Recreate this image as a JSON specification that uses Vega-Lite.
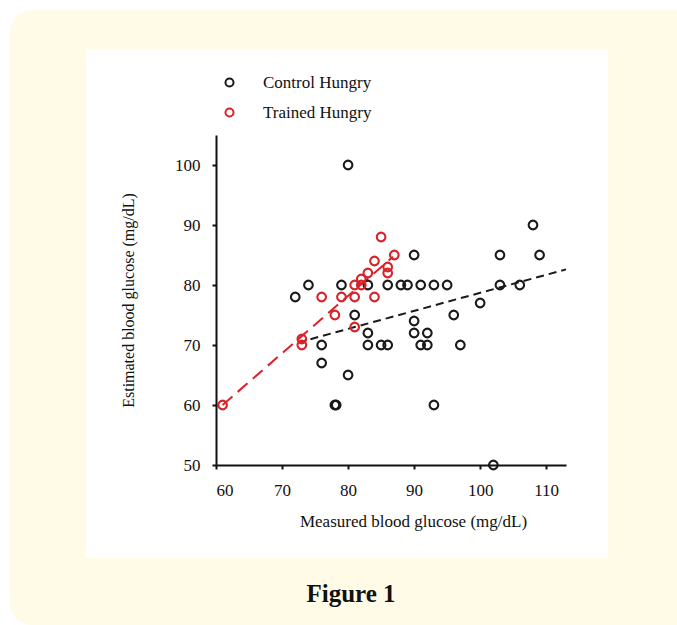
{
  "$schema": "https://vega.github.io/schema/vega-lite/v6.json",
  "width": 350,
  "height": 330,
  "autosize": {"type": "none"},
  "padding": {"left": 216, "top": 135, "right": 111, "bottom": 160},
  "background": "#ffffff",
  "config": {
    "view": {"stroke": null},
    "font": "Liberation Serif"
  },
  "datasets": {
    "panel": [{"part": "panel"}],
    "points": [
      {"group": "Control Hungry", "measured": 80, "estimated": 100},
      {"group": "Control Hungry", "measured": 72, "estimated": 78},
      {"group": "Control Hungry", "measured": 74, "estimated": 80},
      {"group": "Control Hungry", "measured": 79, "estimated": 80},
      {"group": "Control Hungry", "measured": 83, "estimated": 80},
      {"group": "Control Hungry", "measured": 86, "estimated": 80},
      {"group": "Control Hungry", "measured": 88, "estimated": 80},
      {"group": "Control Hungry", "measured": 89, "estimated": 80},
      {"group": "Control Hungry", "measured": 91, "estimated": 80},
      {"group": "Control Hungry", "measured": 93, "estimated": 80},
      {"group": "Control Hungry", "measured": 95, "estimated": 80},
      {"group": "Control Hungry", "measured": 90, "estimated": 85},
      {"group": "Control Hungry", "measured": 81, "estimated": 75},
      {"group": "Control Hungry", "measured": 83, "estimated": 72},
      {"group": "Control Hungry", "measured": 83, "estimated": 70},
      {"group": "Control Hungry", "measured": 85, "estimated": 70},
      {"group": "Control Hungry", "measured": 86, "estimated": 70},
      {"group": "Control Hungry", "measured": 76, "estimated": 70},
      {"group": "Control Hungry", "measured": 76, "estimated": 67},
      {"group": "Control Hungry", "measured": 80, "estimated": 65},
      {"group": "Control Hungry", "measured": 78, "estimated": 60},
      {"group": "Control Hungry", "measured": 78.2, "estimated": 60},
      {"group": "Control Hungry", "measured": 90, "estimated": 74},
      {"group": "Control Hungry", "measured": 90, "estimated": 72},
      {"group": "Control Hungry", "measured": 92, "estimated": 72},
      {"group": "Control Hungry", "measured": 91, "estimated": 70},
      {"group": "Control Hungry", "measured": 92, "estimated": 70},
      {"group": "Control Hungry", "measured": 97, "estimated": 70},
      {"group": "Control Hungry", "measured": 96, "estimated": 75},
      {"group": "Control Hungry", "measured": 100, "estimated": 77},
      {"group": "Control Hungry", "measured": 93, "estimated": 60},
      {"group": "Control Hungry", "measured": 102, "estimated": 50},
      {"group": "Control Hungry", "measured": 103, "estimated": 85},
      {"group": "Control Hungry", "measured": 103, "estimated": 80},
      {"group": "Control Hungry", "measured": 106, "estimated": 80},
      {"group": "Control Hungry", "measured": 108, "estimated": 90},
      {"group": "Control Hungry", "measured": 109, "estimated": 85},
      {"group": "Trained Hungry", "measured": 61, "estimated": 60},
      {"group": "Trained Hungry", "measured": 73, "estimated": 71},
      {"group": "Trained Hungry", "measured": 73, "estimated": 70},
      {"group": "Trained Hungry", "measured": 76, "estimated": 78},
      {"group": "Trained Hungry", "measured": 78, "estimated": 75},
      {"group": "Trained Hungry", "measured": 79, "estimated": 78},
      {"group": "Trained Hungry", "measured": 81, "estimated": 78},
      {"group": "Trained Hungry", "measured": 81, "estimated": 73},
      {"group": "Trained Hungry", "measured": 84, "estimated": 78},
      {"group": "Trained Hungry", "measured": 81, "estimated": 80},
      {"group": "Trained Hungry", "measured": 82, "estimated": 80},
      {"group": "Trained Hungry", "measured": 82, "estimated": 81},
      {"group": "Trained Hungry", "measured": 83, "estimated": 82},
      {"group": "Trained Hungry", "measured": 84, "estimated": 84},
      {"group": "Trained Hungry", "measured": 85, "estimated": 88},
      {"group": "Trained Hungry", "measured": 86, "estimated": 83},
      {"group": "Trained Hungry", "measured": 86, "estimated": 82},
      {"group": "Trained Hungry", "measured": 87, "estimated": 85}
    ],
    "fits": [
      {"group": "Control Hungry", "measured": 72.4, "estimated": 70.4},
      {"group": "Control Hungry", "measured": 113, "estimated": 82.6},
      {"group": "Trained Hungry", "measured": 61, "estimated": 60},
      {"group": "Trained Hungry", "measured": 86.8, "estimated": 84.7}
    ]
  },
  "title": {
    "text": "Figure 1",
    "orient": "bottom",
    "anchor": "middle",
    "frame": "group",
    "dx": -40,
    "offset": -43,
    "font": "Liberation Serif",
    "fontSize": 25,
    "fontWeight": "bold",
    "color": "#111111"
  },
  "layer": [
    {
      "data": {"name": "panel"},
      "mark": {"type": "rect", "clip": false, "fill": "#fffbe7", "cornerRadius": 22},
      "encoding": {
        "x": {"datum": 28.8, "type": "quantitative"},
        "x2": {"datum": 135},
        "y": {"datum": 125.8, "type": "quantitative"},
        "y2": {"datum": 23.33}
      }
    },
    {
      "data": {"name": "panel"},
      "mark": {"type": "rect", "clip": false, "fill": "#ffffff"},
      "encoding": {
        "x": {"datum": 40.3, "type": "quantitative"},
        "x2": {"datum": 119.4},
        "y": {"datum": 119.3, "type": "quantitative"},
        "y2": {"datum": 34.5}
      }
    },
    {
      "data": {"name": "fits"},
      "transform": [{"filter": "datum.group === 'Control Hungry'"}],
      "mark": {"type": "line", "color": "#1a1a1a", "strokeWidth": 2, "strokeDash": [8, 5]},
      "encoding": {
        "x": {"field": "measured", "type": "quantitative"},
        "y": {"field": "estimated", "type": "quantitative"}
      }
    },
    {
      "data": {"name": "fits"},
      "transform": [{"filter": "datum.group === 'Trained Hungry'"}],
      "mark": {"type": "line", "color": "#d8232a", "strokeWidth": 2, "strokeDash": [13, 7]},
      "encoding": {
        "x": {"field": "measured", "type": "quantitative"},
        "y": {"field": "estimated", "type": "quantitative"}
      }
    },
    {
      "data": {"name": "points"},
      "mark": {"type": "point", "shape": "circle", "filled": false, "size": 75, "strokeWidth": 2.1, "opacity": 1},
      "encoding": {
        "x": {
          "field": "measured",
          "type": "quantitative",
          "scale": {"domain": [60, 113], "nice": false, "zero": false},
          "axis": {
            "title": "Measured blood glucose (mg/dL)",
            "zindex": 1,
            "values": [60, 65, 70, 75, 80, 85, 90, 95, 100, 105, 110],
            "labelExpr": "datum.value % 10 === 0 ? datum.label : ''",
            "grid": false,
            "domainColor": "#111111",
            "domainWidth": 2,
            "tickColor": "#111111",
            "tickWidth": 2,
            "tickSize": 4,
            "labelFont": "Liberation Serif",
            "labelFontSize": 17,
            "labelColor": "#111111",
            "labelPadding": 13,
            "titleFont": "Liberation Serif",
            "titleFontSize": 17,
            "titleFontWeight": "normal",
            "titleColor": "#111111",
            "titlePadding": 15,
            "titleX": 197
          }
        },
        "y": {
          "field": "estimated",
          "type": "quantitative",
          "scale": {"domain": [50, 105], "nice": false, "zero": false},
          "axis": {
            "title": "Estimated blood glucose (mg/dL)",
            "zindex": 1,
            "values": [50, 55, 60, 65, 70, 75, 80, 85, 90, 95, 100, 105],
            "labelExpr": "datum.value % 10 === 0 && datum.value <= 100 ? datum.label : ''",
            "grid": false,
            "domainColor": "#111111",
            "domainWidth": 2,
            "tickColor": "#111111",
            "tickWidth": 2,
            "tickSize": 4,
            "labelFont": "Liberation Serif",
            "labelFontSize": 17,
            "labelColor": "#111111",
            "labelPadding": 12,
            "titleFont": "Liberation Serif",
            "titleFontSize": 16,
            "titleFontWeight": "normal",
            "titleColor": "#111111",
            "titlePadding": 38
          }
        },
        "color": {
          "field": "group",
          "type": "nominal",
          "scale": {"domain": ["Control Hungry", "Trained Hungry"], "range": ["#1a1a1a", "#d8232a"]},
          "legend": {
            "title": null,
            "orient": "none",
            "legendX": 5,
            "legendY": -61,
            "padding": 0,
            "zindex": 1,
            "symbolType": "circle",
            "symbolSize": 65,
            "symbolStrokeWidth": 2,
            "symbolFillColor": "transparent",
            "labelFont": "Liberation Serif",
            "labelFontSize": 17,
            "labelColor": "#111111",
            "labelOffset": 25,
            "rowPadding": 12
          }
        }
      }
    }
  ]
}
